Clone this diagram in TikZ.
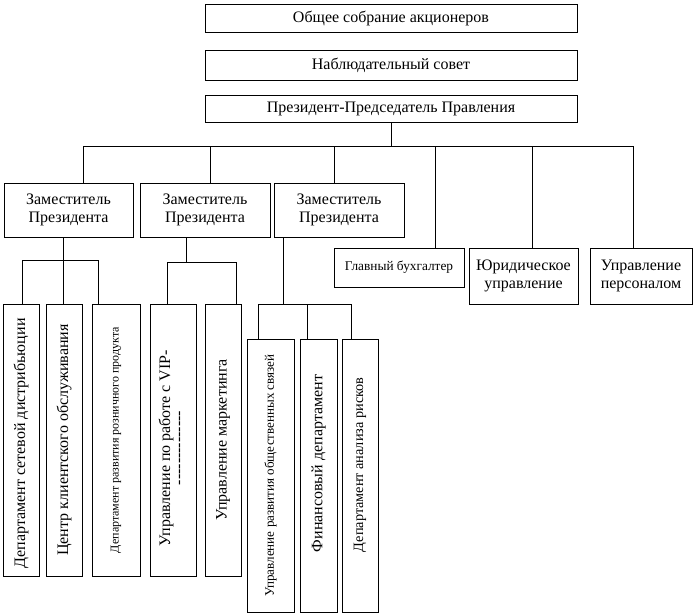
\documentclass[tikz,border=0pt]{standalone}
\usepackage{fontspec}
\setmainfont{Liberation Serif}
\usepackage{graphicx}
\usepackage{tikz}

\tikzset{
  box/.style 2 args={draw, line width=0.75pt, inner sep=0pt, align=center,
    minimum width=#1*0.75pt, minimum height=#2*0.75pt,
    font=\fontsize{12}{14}\selectfont},
  small/.style={font=\fontsize{#1}{#1}\selectfont},
  link/.style={line width=0.75pt}
}
\newcommand{\vtext}[2][0pt]{\rotatebox{90}{\hspace{#1}#2}}
\newcommand{\dashrow}{\foreach \i in {1,...,14}{-\kern0pt}}

\begin{document}
\begin{tikzpicture}[x=0.75pt, y=-0.75pt]
    \useasboundingbox (0,0) rectangle (696,615);

    % top of the structure
    \node[box={372}{28}] (sobr) at (391,18) {Общее собрание акционеров};
    \node[box={372}{30}] (sovet) at (391,65) {Наблюдательный совет};
    \node[box={372}{27}] (prez) at (391,108.5) {Президент-Председатель Правления};

    % deputies and services
    \node[box={129}{54}] (zam1) at (68.5,210) {Заместитель\\Президента};
    \node[box={130}{54}] (zam2) at (205,210) {Заместитель\\Президента};
    \node[box={130}{54}] (zam3) at (339,210) {Заместитель\\Президента};
    \node[box={130}{39}, small=10] (buh) at (399,267.5) {Главный бухгалтер};
    \node[box={109}{56}] (jur) at (523.5,276) {Юридическое\\управление};
    \node[box={102}{56}] (pers) at (641,276) {Управление\\персоналом};

    % departments
    \node[box={36}{272}] (dist) at (21,440) {\vtext[-5pt]{Департамент сетевой дистрибьюции}};
    \node[box={36}{272}] (klient) at (64,440) {\vtext{Центр клиентского обслуживания}};
    \node[box={48}{272}, small=9] (rozn) at (116,440) {\vtext{Департамент развития розничного продукта}};
    \node[box={46}{272}] (vip) at (173,440) {\vtext[-12pt]{\begin{tabular}{@{}c@{}}Управление по работе с VIP-\\[-4pt]\dashrow\end{tabular}}};
    \node[box={36}{272}] (mark) at (223,440) {\vtext{Управление маркетинга}};
    \node[box={47}{273}, small=9.8] (pr) at (270.5,475.5) {\vtext{Управление развития общественных связей}};
    \node[box={37}{273}] (fin) at (318.5,475.5) {\vtext[18pt]{Финансовый департамент}};
    \node[box={36}{273}, small=10.7] (risk) at (360,475.5) {\vtext[16pt]{Департамент анализа рисков}};

    % main bus
    \coordinate (t1) at (83,146);
    \coordinate (t2) at (210,146);
    \coordinate (t3) at (334,146);
    \coordinate (t4) at (435,146);
    \coordinate (t5) at (532,146);
    \coordinate (t6) at (633,146);
    \draw[link] (prez.south) -- (prez.south |- t1);
    \draw[link] (t1) -- (t6);
    \foreach \c/\n in {t1/zam1, t2/zam2, t3/zam3, t4/buh, t5/jur, t6/pers}
        \draw[link] (\c) -- (\c |- \n.north);

    % first deputy
    \coordinate (a1) at (22,260);
    \coordinate (a2) at (63,260);
    \coordinate (a3) at (98,260);
    \draw[link] (a2 |- zam1.south) -- (a2);
    \draw[link] (a1) -- (a3);
    \foreach \c/\n in {a1/dist, a2/klient, a3/rozn}
        \draw[link] (\c) -- (\c |- \n.north);

    % second deputy
    \coordinate (b0) at (186,262);
    \coordinate (b1) at (167,262);
    \coordinate (b2) at (236,262);
    \draw[link] (b0 |- zam2.south) -- (b0);
    \draw[link] (b1) -- (b2);
    \foreach \c/\n in {b1/vip, b2/mark}
        \draw[link] (\c) -- (\c |- \n.north);

    % third deputy
    \coordinate (c0) at (283,304);
    \coordinate (c1) at (258,304);
    \coordinate (c2) at (307,304);
    \coordinate (c3) at (351,304);
    \draw[link] (c0 |- zam3.south) -- (c0);
    \draw[link] (c1) -- (c3);
    \foreach \c/\n in {c1/pr, c2/fin, c3/risk}
        \draw[link] (\c) -- (\c |- \n.north);
\end{tikzpicture}
\end{document}
